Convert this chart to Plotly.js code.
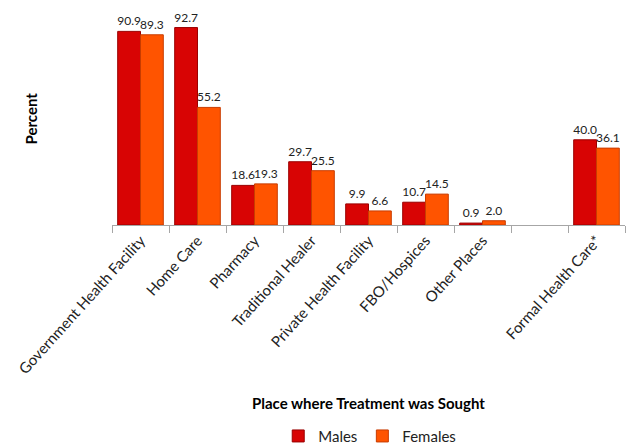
<!DOCTYPE html>
<html><head><meta charset="utf-8">
<script src="https://cdn.plot.ly/plotly-3.0.1.min.js"></script>
<style>html,body{margin:0;padding:0;background:#fff}#c{width:632px;height:446px}</style>
</head><body><div id="c"></div>
<script>
const categories = ["Government Health Facility","Home Care","Pharmacy","Traditional Healer","Private Health Facility","FBO/Hospices","Other Places"," ","Formal Health Care*"];
const males = [90.9, 92.7, 18.6, 29.7, 9.9, 10.7, 0.9, null, 40.0];
const females = [89.3, 55.2, 19.3, 25.5, 6.6, 14.5, 2.0, null, 36.1];

const font = "Lato, 'Open Sans', sans-serif";
const traces = [
  {type:'bar', name:'Males', x:categories, y:males,
   marker:{color:'#d80404', line:{color:'#9a0000', width:1}},
   texttemplate:'%{y:.1f}', textposition:'outside', cliponaxis:false, constraintext:'none',
   textfont:{family:font, size:12, color:'#222'}},
  {type:'bar', name:'Females', x:categories, y:females,
   marker:{color:'#ff5400', line:{color:'#c83c00', width:1}},
   texttemplate:'%{y:.1f}', textposition:'outside', cliponaxis:false, constraintext:'none',
   textfont:{family:font, size:12, color:'#222'}}
];
const layout = {
  width:632, height:446,
  margin:{l:112, r:7, t:12, b:221, autoexpand:false},
  paper_bgcolor:'#fff', plot_bgcolor:'#fff',
  font:{family:font, size:15, color:'#222'},
  barmode:'group', bargap:0.2, bargroupgap:0,
  showlegend:true,
  legend:{orientation:'h', x:0.585, xref:'container', xanchor:'center', y:0.022, yref:'container', yanchor:'middle',
          font:{family:font, size:15, color:'#222'}, itemwidth:30, traceorder:'normal'},
  xaxis:{type:'category', tickangle:-48, showline:true, linecolor:'#a6a6a6', linewidth:1, automargin:false,
         ticks:'outside', tickson:'boundaries', ticklen:7, tickcolor:'#a6a6a6',
         tickfont:{family:font, size:15, color:'#222'}, showgrid:false, zeroline:false},
  yaxis:{range:[0,100], visible:false, showgrid:false, zeroline:false},
  annotations:[
    {text:'<b>Place where Treatment was Sought</b>', xref:'paper', yref:'paper', x:0.5, y:-0.836,
     xanchor:'center', yanchor:'middle', showarrow:false, font:{family:font, size:15, color:'#000'}},
    {text:'<b>Percent</b>', xref:'paper', yref:'paper', x:-0.158, y:0.5, textangle:-90,
     xanchor:'center', yanchor:'middle', showarrow:false, font:{family:font, size:15, color:'#000'}}
  ]
};
Plotly.newPlot('c', traces, layout, {displayModeBar:false, staticPlot:true});
</script></body></html>
